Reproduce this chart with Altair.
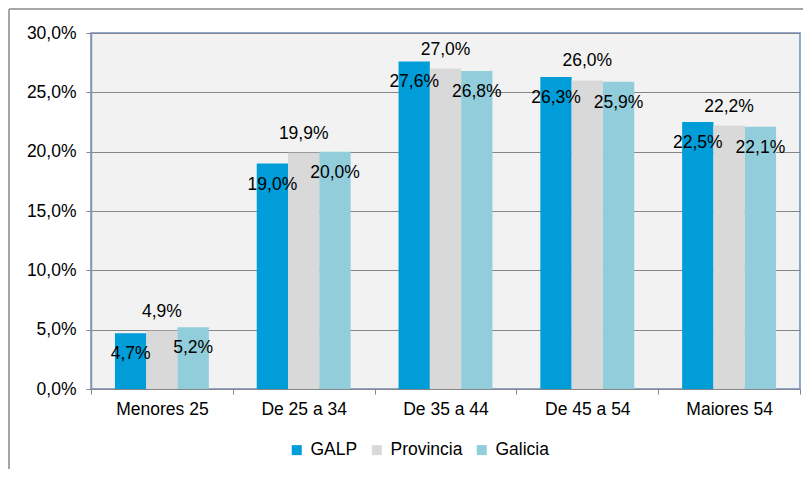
import altair as alt
import pandas as pd

categories = ["Menores 25", "De 25 a 34", "De 35 a 44", "De 45 a 54", "Maiores 54"]
series = ["GALP", "Provincia", "Galicia"]
galp = [4.7, 19.0, 27.6, 26.3, 22.5]
provincia = [4.9, 19.9, 27.0, 26.0, 22.2]
galicia = [5.2, 20.0, 26.8, 25.9, 22.1]
colors = ["#009DD9", "#D9D9D9", "#92CDDC"]
y_ticks = [0, 5, 10, 15, 20, 25, 30]

rows = []
for name, vals in zip(series, [galp, provincia, galicia]):
    for c, v in zip(categories, vals):
        rows.append({"cat": c, "serie": name, "v": v})
df = pd.DataFrame(rows)

FONT = "Liberation Sans"
W, H = 709, 356
FS = 17.5

x = alt.X("cat:N", sort=categories, title=None,
          scale=alt.Scale(paddingInner=0, paddingOuter=0),
          axis=alt.Axis(labelAngle=0, tickBand="extent", domainColor="#868686",
                        tickColor="#868686", tickSize=5, labelFontSize=FS,
                        labelColor="#000000", labelPadding=6, grid=False,
                        labelFont=FONT))
xo = alt.XOffset("serie:N", sort=series,
                 scale=alt.Scale(domain=series, paddingInner=0, paddingOuter=0.765))
y = alt.Y("v:Q", title=None,
          scale=alt.Scale(domain=[0, 30], nice=False),
          axis=alt.Axis(values=y_ticks, grid=True, gridColor="#868686", gridWidth=1.2,
                        domainColor="#8497B0", domainWidth=1.5,
                        tickColor="#868686", tickSize=5, labelFontSize=FS,
                        labelColor="#000000", labelPadding=10, labelFont=FONT,
                        labelExpr="replace(format(datum.value, '.1f'), '.', ',') + '%'"))

base = alt.Chart(df)

bars = base.mark_bar().encode(
    x=x, xOffset=xo, y=y,
    color=alt.Color("serie:N", sort=series,
                    scale=alt.Scale(domain=series, range=colors),
                    legend=alt.Legend(title=None, orient="none", legendX=197, legendY=408,
                                      direction="horizontal", symbolType="square",
                                      symbolSize=100, symbolStrokeWidth=0,
                                      labelFontSize=FS, labelFont=FONT, labelColor="#000000",
                                      labelOffset=5, columnPadding=10)),
)

lab = base.transform_calculate(
    label="replace(format(datum.v, '.1f'), '.', ',') + '%'"
)

text_in = lab.transform_filter("datum.serie != 'Provincia'").mark_text(
    fontSize=FS, font=FONT, dy=21, baseline="middle", color="#000000"
).encode(x=x, xOffset=xo, y=y, text="label:N")

text_up = lab.transform_filter("datum.serie == 'Provincia'").mark_text(
    fontSize=FS, font=FONT, dy=-19, baseline="middle", color="#000000"
).encode(x=x, xOffset=xo, y=y, text="label:N")

frame_df = pd.DataFrame({"a": [0]})
frame_v = alt.Chart(frame_df).mark_rule(color="#A6A6A6", strokeWidth=2).encode(
    x=alt.value(-82), y=alt.value(-24), y2=alt.value(H + 120))
frame_h = alt.Chart(frame_df).mark_rule(color="#A6A6A6", strokeWidth=2).encode(
    x=alt.value(-82), x2=alt.value(W + 40), y=alt.value(-24))

chart = alt.layer(bars, text_in, text_up, frame_v, frame_h).properties(
    width=W, height=H,
    autosize=alt.AutoSizeParams(type="none"),
    padding={"left": 83, "top": 25, "right": 3, "bottom": 80},
).configure(font=FONT).configure_view(
    fill="#F2F2F2", stroke="#6F8FC4", strokeWidth=1.5
)

chart.save("out.html", embed_options={"renderer": "svg", "actions": False})
